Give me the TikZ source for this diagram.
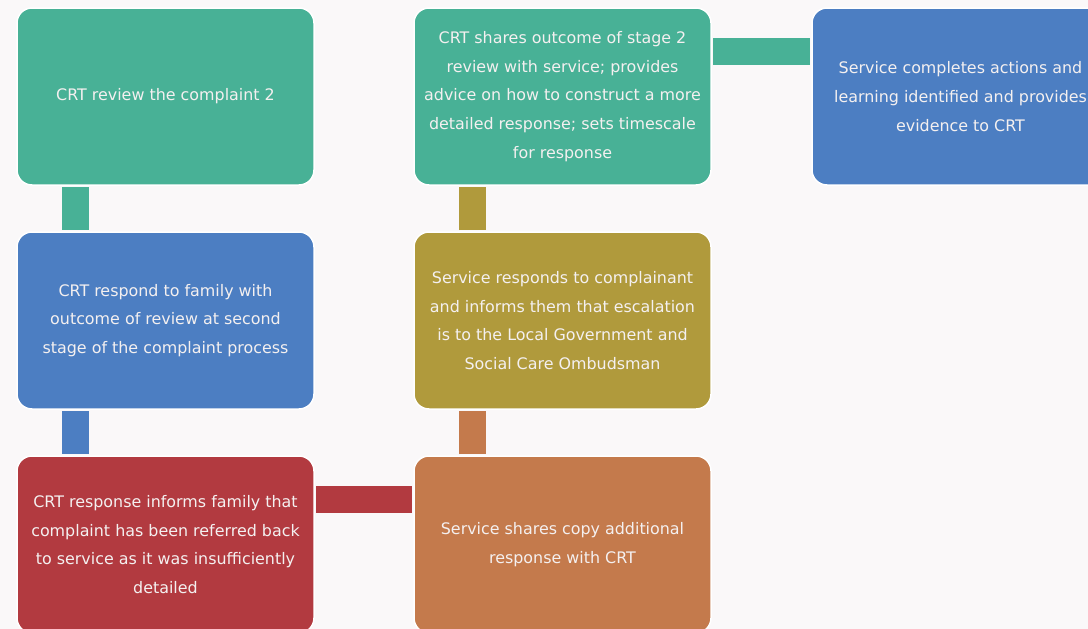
\documentclass[tikz,border=0pt]{standalone}
\usepackage{fontspec}
\setmainfont{DejaVu Sans}
\definecolor{bgc}{HTML}{FAF8F9}
\definecolor{cteal}{HTML}{48B196}
\definecolor{cblue}{HTML}{4C7EC2}
\definecolor{cred}{HTML}{B23A40}
\definecolor{corange}{HTML}{C47A4C}
\definecolor{colive}{HTML}{B09A3C}
\definecolor{txt}{HTML}{F4F0F0}
\begin{document}
\begin{tikzpicture}[x=1pt,y=-1pt,
  box/.style={fill=#1, draw=white, line width=1.5pt, rounded corners=15pt,
    minimum width=297pt, minimum height=177pt, inner sep=0pt, outer sep=0pt,
    align=center, text=txt, font=\fontsize{15.9}{28.7}\selectfont,
    anchor=north west},
  bar/.style={draw=#1, line width=27pt, shorten <=2pt, shorten >=2pt}]
  \clip (0,0) rectangle (1088,629);
  \fill[bgc] (0,0) rectangle (1088,629);

  % left column
  \node[box=cteal] (review) at (17,8) {CRT review the complaint 2};
  \node[box=cblue] (respond) at (17,232) {CRT respond to family with\\outcome of review at second\\stage of the complaint process};
  \node[box=cred] (referred) at (17,456) {CRT response informs family that\\complaint has been referred back\\to service as it was insufficiently\\detailed};

  % middle column
  \node[box=corange] (copy) at (414,456) {Service shares copy additional\\response with CRT};
  \node[box=colive] (ombuds) at (414,232) {Service responds to complainant\\and informs them that escalation\\is to the Local Government and\\Social Care Ombudsman};
  \node[box=cteal] (advice) at (414,8) {CRT shares outcome of stage 2\\review with service; provides\\advice on how to construct a more\\detailed response; sets timescale\\for response};

  % right column
  \node[box=cblue] (evidence) at (812,8) {Service completes actions and\\learning identified and provides\\evidence to CRT};

  % connectors
  \draw[bar=cteal] ([xshift=58.5pt]review.south west) -- ([xshift=58.5pt]respond.north west);
  \draw[bar=cblue] ([xshift=58.5pt]respond.south west) -- ([xshift=58.5pt]referred.north west);
  \draw[bar=cred] ([yshift=-43.5pt]referred.north east) -- ([yshift=-43.5pt]copy.north west);
  \draw[bar=corange] ([xshift=58.5pt]copy.north west) -- ([xshift=58.5pt]ombuds.south west);
  \draw[bar=colive] ([xshift=58.5pt]ombuds.north west) -- ([xshift=58.5pt]advice.south west);
  \draw[bar=cteal] ([yshift=-43.5pt]advice.north east) -- ([yshift=-43.5pt]evidence.north west);
\end{tikzpicture}
\end{document}
